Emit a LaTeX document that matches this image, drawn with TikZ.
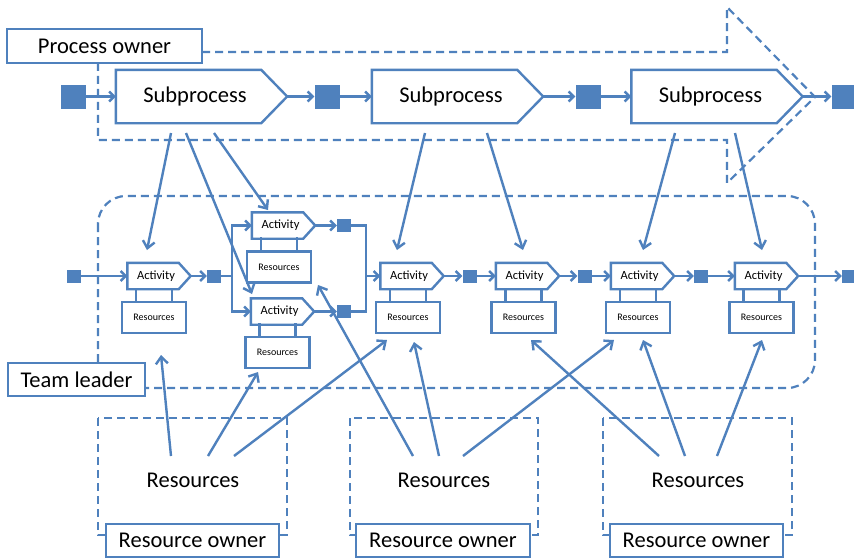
\documentclass[tikz,border=0pt]{standalone}
\usepackage{fontspec}
\setmainfont{Carlito}
\usetikzlibrary{arrows.meta,calc}
\definecolor{flowblue}{HTML}{4F81BD}

% outline of an arrow-shaped (pentagon) box around a rectangular node
\newcommand\pentoutline[2]{%
  \draw[line, line join=miter] (#1.north west) -- ([xshift=-#2]#1.north east)
    -- (#1.east) -- ([xshift=-#2]#1.south east) -- (#1.south west) -- cycle;}
% the two short bars joining an activity to its resource box
\newcommand\resstubs[1]{%
  \draw[line] ([xshift=-18pt]#1.north) -- ++(0,-13) ([xshift=18pt]#1.north) -- ++(0,-13);}

\begin{document}
\begin{tikzpicture}[x=1pt,y=-1pt,
  line/.style={draw=flowblue,line width=2.4pt},
  dashline/.style={draw=flowblue,line width=2.2pt,dash pattern=on 8pt off 5pt},
  flow/.style={line,-{Straight Barb[length=5pt,width=10pt]}},
  link/.style={line,-{Straight Barb[length=7pt,width=12pt]}},
  bigfont/.style={font=\fontsize{22.5}{26}\selectfont},
  labelbox/.style={draw=flowblue,line width=2.4pt,fill=white,bigfont,inner sep=0pt},
  bigsq/.style={fill=flowblue,minimum width=25pt,minimum height=24pt,inner sep=0pt},
  smallsq/.style={fill=flowblue,minimum width=14pt,minimum height=13pt,inner sep=0pt},
  subproc/.style={minimum width=171pt,minimum height=53pt,inner sep=0pt,bigfont},
  activity/.style={minimum width=63pt,minimum height=26pt,inner sep=0pt,font=\fontsize{12.5}{14}\selectfont},
  resbox/.style={draw=flowblue,line width=2.4pt,fill=white,minimum width=64pt,minimum height=31pt,inner sep=0pt,font=\fontsize{10}{12}\selectfont},
  bigtext/.style={bigfont,inner sep=0pt},
]
\useasboundingbox[fill=white] (0,0) rectangle (854,558);

% ---- dashed responsibility areas ----
\draw[dashline] (98,52) -- (727,52) -- (727,7) -- (815,97) -- (727,183) -- (727,140) -- (98,140) -- cycle;
\draw[dashline, rounded corners=28pt] (98,196) rectangle (815,388);
\draw[dashline] (98,418) rectangle (287,535);
\draw[dashline] (350,418) rectangle (538,535);
\draw[dashline] (603,418) rectangle (792,535);

% ---- role labels ----
\node[labelbox, minimum width=195pt, minimum height=34pt] (po) at (104.5,46) {\raisebox{-1.5pt}{Process owner}};
\node[labelbox, minimum width=137pt, minimum height=33pt] (tl) at (76.5,379.5) {\raisebox{-1.5pt}{Team leader}};
\node[labelbox, minimum width=173pt, minimum height=33pt] (ro1) at (192.5,540.5) {\raisebox{-1pt}{Resource owner}};
\node[labelbox, minimum width=174pt, minimum height=33pt] (ro2) at (443,540.5) {\raisebox{-1pt}{Resource owner}};
\node[labelbox, minimum width=173pt, minimum height=33pt] (ro3) at (696.5,540.5) {\raisebox{-1pt}{Resource owner}};

% ---- resource pools ----
\node[bigtext] (res1) at (193,480) {Resources};
\node[bigtext] (res2) at (444,480) {Resources};
\node[bigtext] (res3) at (698,480) {Resources};

% ---- subprocess level ----
\node[subproc] (s1) at (201.5,96.5) {\raisebox{-1.5pt}{Subprocess}\hspace*{13pt}};
\node[subproc] (s2) at (457.5,96.5) {\raisebox{-1.5pt}{Subprocess}\hspace*{13pt}};
\node[subproc] (s3) at (717,96.5) {\raisebox{-1.5pt}{Subprocess}\hspace*{13pt}};
\pentoutline{s1}{26pt}
\pentoutline{s2}{26pt}
\pentoutline{s3}{26pt}

\node[bigsq] (p0) at (73.5,96.5) {};
\node[bigsq] (p1) at (327,96.5) {};
\node[bigsq] (p2) at (588,96.5) {};
\node[bigsq] (p3) at (844,96.5) {};

\draw[flow] (p0.east) -- (s1.west);
\draw[flow] (s1.east) -- (p1.west);
\draw[flow] (p1.east) -- (s2.west);
\draw[flow] (s2.east) -- (p2.west);
\draw[flow] (p2.east) -- (s3.west);
\draw[flow] (s3.east) -- (p3.west);

% ---- activity level ----
\node[activity] (a1) at (159,276) {Activity\hspace*{6pt}};
\node[activity] (a2) at (283.5,225.5) {Activity\hspace*{6pt}};
\node[activity] (a3) at (282.5,311.5) {Activity\hspace*{6pt}};
\node[activity] (a4) at (412,276) {Activity\hspace*{6pt}};
\node[activity] (a5) at (527.5,276) {Activity\hspace*{6pt}};
\node[activity] (a6) at (642.5,276) {Activity\hspace*{6pt}};
\node[activity] (a7) at (766.5,276) {Activity\hspace*{6pt}};
\foreach \a in {a1,a2,a3,a4,a5,a6,a7}{\pentoutline{\a}{12pt}}

\node[resbox] (r1) at (154,317.5) {Resources};
\node[resbox] (r2) at (279,267) {Resources};
\node[resbox] (r3) at (277.5,352.5) {Resources};
\node[resbox] (r4) at (408,317.5) {Resources};
\node[resbox] (r5) at (523.5,317.5) {Resources};
\node[resbox] (r6) at (638,317.5) {Resources};
\node[resbox] (r7) at (761.5,317.5) {Resources};
\foreach \r in {r1,r2,r3,r4,r5,r6,r7}{\resstubs{\r}}

\node[smallsq] (q0) at (74,276) {};
\node[smallsq] (q1) at (214,276) {};
\node[smallsq] (q2) at (344,225.5) {};
\node[smallsq] (q3) at (344,311.5) {};
\node[smallsq] (q4) at (469.5,276) {};
\node[smallsq] (q5) at (584.5,276) {};
\node[smallsq] (q6) at (701,276) {};
\node[smallsq] (q7) at (849,276) {};

\coordinate (split) at (232,276);
\coordinate (merge) at (366,276);

\draw[flow] (q0.east) -- (a1.west);
\draw[flow] (a1.east) -- (q1.west);
\draw[line] (q1.east) -- (split);
\draw[flow] (split) |- (a2.west);
\draw[flow] (split) |- (a3.west);
\draw[flow] (a2.east) -- (q2.west);
\draw[flow] (a3.east) -- (q3.west);
\draw[line] (q2.east) -| (merge);
\draw[line] (q3.east) -| (merge);
\draw[flow] (merge) -- (a4.west);
\draw[flow] (a4.east) -- (q4.west);
\draw[flow] (q4.east) -- (a5.west);
\draw[flow] (a5.east) -- (q5.west);
\draw[flow] (q5.east) -- (a6.west);
\draw[flow] (a6.east) -- (q6.west);
\draw[flow] (q6.east) -- (a7.west);
\draw[flow] (a7.east) -- (q7.west);

% ---- subprocesses assign activities ----
\coordinate (s1a) at (171,133);  \coordinate (a1top) at (147,250);
\coordinate (s1b) at (186,133);  \coordinate (a3top) at (252,294);
\coordinate (s1c) at (214,133);  \coordinate (a2top) at (268,210);
\coordinate (s2a) at (425,133);  \coordinate (a4top) at (397,250);
\coordinate (s2b) at (487,133);  \coordinate (a5top) at (523,250);
\coordinate (s3a) at (675,133);  \coordinate (a6top) at (643,250);
\coordinate (s3b) at (735,133);  \coordinate (a7top) at (762,250);
\draw[link] (s1a) -- (a1top);
\draw[link] (s1b) -- (a3top);
\draw[link] (s1c) -- (a2top);
\draw[link] (s2a) -- (a4top);
\draw[link] (s2b) -- (a5top);
\draw[link] (s3a) -- (a6top);
\draw[link] (s3b) -- (a7top);

% ---- resource pools supply activity resources ----
\coordinate (res1a) at (171,456); \coordinate (r1low) at (161,355);
\coordinate (res1b) at (208,456); \coordinate (r3low) at (258,372);
\coordinate (res1c) at (234,456); \coordinate (r4lowa) at (387,340);
\coordinate (res2a) at (413,456); \coordinate (r2low) at (318,285);
\coordinate (res2b) at (439,456); \coordinate (r4lowb) at (414,342);
\coordinate (res2c) at (463,456); \coordinate (r6lowa) at (614,340);
\coordinate (res3a) at (659,456); \coordinate (r5low) at (531,340);
\coordinate (res3b) at (685,456); \coordinate (r6lowb) at (643,340);
\coordinate (res3c) at (717,456); \coordinate (r7low) at (762,340);
\draw[link] (res1a) -- (r1low);
\draw[link] (res1b) -- (r3low);
\draw[link] (res1c) -- (r4lowa);
\draw[link] (res2a) -- (r2low);
\draw[link] (res2b) -- (r4lowb);
\draw[link] (res2c) -- (r6lowa);
\draw[link] (res3a) -- (r5low);
\draw[link] (res3b) -- (r6lowb);
\draw[link] (res3c) -- (r7low);
\end{tikzpicture}
\end{document}
